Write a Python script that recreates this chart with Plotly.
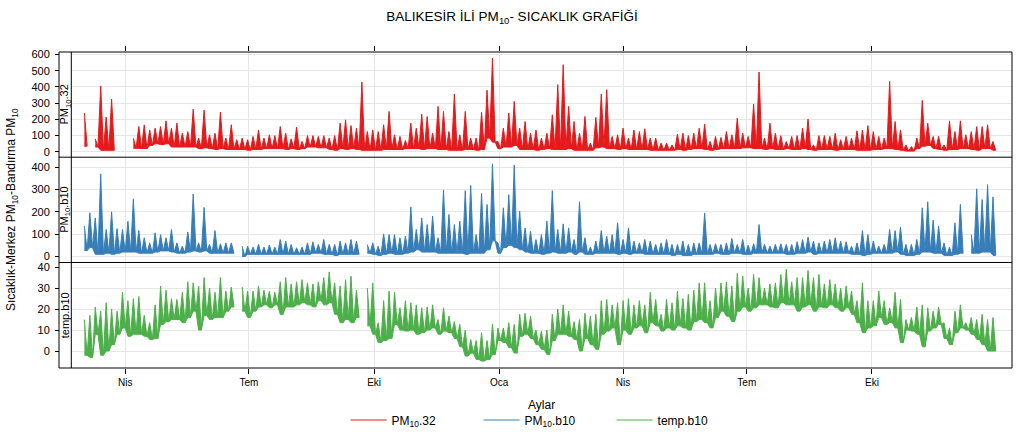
import pandas as pd
import plotly.graph_objects as go

N = None
start_date = "2015-03-01"
step_days = 4  # each entry = one 4-day window (max, min)

month_ticks = ["2015-04-01", "2015-07-01", "2015-10-01", "2016-01-01",
               "2016-04-01", "2016-07-01", "2016-10-01"]
month_labels = ["Nis", "Tem", "Eki", "Oca", "Nis", "Tem", "Eki"]

pm32_hi = [240, N, 80, 405, 215, 325, N, N, N, 84, 156, 166, 135, 146, 156, 191, 146, 177, 115, 125,
           263, 85, 257, 105, 115, 245, 85, 167, 75, 85, 75, 95, 135, 85, 105, 100, 156, 115, 80, 152,
           64, 100, 100, 95, 100, 85, 100, 177, 197, 162, 146, 430, 125, 135, 125, 167, 249, 105, 95, 70,
           177, 146, 232, 218, 115, 280, 249, 125, 356, 105, 249, 85, 85, 243, 380, 578, 64, 146, 239, 311,
           146, 187, 115, 135, 85, 115, 228, 414, 537, 280, 187, 115, 218, 54, 212, 356, 383, 95, 105, 146,
           85, 135, 125, 142, 85, 85, 54, 54, 43, 109, 115, 100, 115, 146, 170, 64, 95, 89, 125, 105,
           208, 115, 95, 294, 492, 85, 177, 115, 100, 64, 95, 100, 146, 202, 43, 100, 100, 95, 115, 75,
           95, 85, 130, 135, 162, 125, 95, 85, 434, 187, 135, 43, 33, 85, 317, 177, 95, 95, 43, 191,
           125, 191, 105, 125, 156, 156, 167, 64]
pm32_lo = [35, N, 30, 10, 10, 10, N, N, N, 23, 22, 20, 40, 50, 45, 50, 30, 30, 30, 30,
           30, 20, 25, 20, 15, 20, 15, 15, 15, 15, 10, 15, 15, 20, 20, 20, 20, 15, 20, 15,
           20, 30, 30, 25, 25, 15, 10, 20, 15, 20, 15, 10, 10, 10, 10, 15, 15, 12, 15, 20,
           20, 20, 15, 20, 20, 15, 15, 10, 10, 10, 15, 15, 10, 15, 85, 60, 20, 30, 30, 40,
           15, 15, 15, 10, 15, 20, 15, 15, 15, 20, 10, 10, 10, 10, 25, 30, 20, 20, 15, 20,
           15, 15, 15, 15, 10, 10, 10, 10, 10, 15, 10, 15, 20, 20, 15, 10, 15, 20, 20, 20,
           20, 25, 25, 20, 20, 15, 20, 15, 15, 20, 15, 15, 20, 15, 10, 15, 15, 15, 10, 15,
           15, 15, 10, 10, 10, 15, 15, 20, 20, 15, 10, 5, 5, 20, 35, 40, 20, 15, 10, 15,
           15, 20, 20, 15, 10, 20, 20, 10]

pmb10_hi = [136, 196, 173, 370, 121, 200, 125, 121, 158, 258, 116, 84, 61, 106, 98, 84, 121, 61, 46, 110,
            280, 61, 220, 54, 116, 57, 61, 61, N, 46, 46, 42, 54, 42, 51, 42, 76, 69, 54, 39,
            42, 61, 66, 54, 76, 54, 54, 69, 61, 76, 69, N, 54, 61, 46, 101, 98, 98, 84, 91,
            222, 121, 173, 143, 181, 84, 298, 188, 143, 158, 295, 318, 98, 282, 233, 415, 61, 218, 277, 409,
            203, 128, 113, 76, 98, 158, 295, 121, 146, 128, 76, 245, 84, 42, 69, 116, 91, 98, 151, 76,
            128, 69, 61, 76, 69, 54, 61, 76, 54, 54, 69, 54, 61, 61, 195, 54, 57, 54, 61, 81,
            54, 76, 51, 57, 143, 54, 46, 54, 57, 54, 54, 66, 76, 87, 69, 61, 69, 76, 84, 69,
            66, 46, 61, 116, 98, 69, 46, 54, 121, 116, 131, 54, 54, 76, 218, 245, 163, 136, 61, 42,
            151, 233, N, 98, 303, 255, 322, 267]
pmb10_lo = [27, 40, 10, 10, 15, 10, 15, 20, 20, 20, 15, 15, 15, 20, 25, 25, 20, 15, 15, 20,
            25, 20, 25, 15, 15, 15, 15, 15, N, 0, 10, 10, 10, 10, 10, 10, 10, 10, 10, 10,
            10, 10, 15, 15, 10, 10, 5, 10, 10, 10, 10, N, 15, 10, 5, 10, 15, 10, 10, 15,
            20, 30, 20, 20, 20, 15, 15, 15, 15, 15, 10, 15, 15, 15, 30, 70, 15, 40, 50, 40,
            30, 20, 15, 15, 10, 15, 20, 15, 15, 20, 10, 20, 10, 10, 15, 15, 15, 15, 10, 15,
            10, 15, 15, 10, 10, 10, 10, 10, 5, 10, 5, 5, 10, 10, 10, 10, 15, 10, 10, 15,
            15, 10, 10, 15, 15, 15, 15, 15, 15, 10, 10, 15, 15, 20, 10, 15, 15, 15, 15, 15,
            15, 10, 10, 5, 10, 15, 15, 15, 15, 20, 10, 5, 5, 10, 20, 20, 15, 15, 5, 5,
            10, 15, N, 15, 15, 20, 20, 5]

temp_hi = [15, 17, 21, 19, 23, 20, 19, 28, 24, 25, 26, 17, 13.5, 22, 31, 29, 25, 24.6, 28, 33,
           32.5, 31, 35, 30, 28, 35, 28.6, 30.5, N, 30.5, 28.6, 28.6, 31, 29, 28.6, 28, 33, 35, 32, 33,
           34, 32.5, 32, 33, 35, 37.7, 32.5, 31, 34, 35.7, 29, N, 30, 32.5, 13.5, 24, 28.6, 28, 20.6, 24,
           23, 22, 20.6, 21, 22, 15, 20.6, 16.6, 14, 12.7, 10, 5.5, 5, 8.7, 5, 12.7, 11, 11, 13.5, 12.7,
           17.5, 18, 16.6, 10, 9.5, 10, 17.5, 20, 22, 19, 14, 15, 18, 16.6, 17.5, 24, 24.6, 22, 23, 24,
           25, 22, 24, 22, 28, 24.6, 17.5, 24.6, 23, 28.6, 25, 27, 29, 32.5, 32.5, 24, 30, 32.5, 33, 31,
           37, 35.7, 30, 36.5, 35, 30, 32, 32.5, 36.5, 39, 33, 35, 35, 38.4, 35, 36.5, 32, 34, 32, 30,
           31, 28.6, 24, 32.5, 24, 24, 28.6, 24, 20.6, 28, 24.6, 15, 16, 21, 22, 20.6, 19, 21, 13.5, 11,
           19, 22, 13.5, 16, 15, 17.5, 15, 16]
temp_lo = [-2, -3, 8, -2, 0, 3, 8, 11, 7, 8, 8, 7, 5.5, 6, 12.7, 14, 15, 15, 13.5, 16,
           19, 10, 17, 15, 16, 16, 19, 21, N, 19, 16, 19, 21, 22, 20.6, 22, 17.5, 21, 21, 22,
           23, 22, 21, 24, 22, 23, 17.5, 13.5, 15, 13.5, 16, N, 12, 8, 4, 5, 6, 12.7, 10, 9.5,
           10, 8, 8.7, 10, 11, 8, 9.5, 8.7, 6, 2, -2.4, -1, -4, -4.8, -4, -1.6, 5, 4, 1.6, -1,
           7, 8, 6, 3, 0.8, -1.6, 5, 8, 8, 7, 5.5, 0, 6, 3, 0.8, 8, 9.5, 11, 3, 10,
           8, 11, 12, 8.7, 13.5, 12, 9.5, 11, 10, 12, 11, 10, 14, 15, 13.5, 11, 16, 19, 16.6, 14,
           19, 21, 19, 20.6, 22, 22, 21, 20.6, 23, 22, 22, 19, 21, 22, 19, 21, 20.6, 22, 20.6, 19,
           20.6, 17.5, 13.5, 8.7, 11, 12, 16, 12.7, 13.5, 11, 4, 10, 9.5, 8, 2, 9.5, 11, 12.7, 6, 3,
           8.7, 11, 10, 8, 5.5, 3, 0, 0]

series_names = ["PM<sub>10</sub>.32", "PM<sub>10</sub>.b10", "temp.b10"]
series_colors = ["#E41A1C", "#377EB8", "#4DAF4A"]

base = pd.Timestamp(start_date)


def segments(hi, lo):
    """Split the window lists into contiguous runs (no missing windows)."""
    runs, cur = [], []
    for i, (h, l) in enumerate(zip(hi, lo)):
        if h is None or l is None:
            if cur:
                runs.append(cur)
            cur = []
        else:
            cur.append((i, h, l))
    if cur:
        runs.append(cur)
    return runs


fig = go.Figure()
data = [(pm32_hi, pm32_lo, "x2", "y"), (pmb10_hi, pmb10_lo, "x", "y2"), (temp_hi, temp_lo, "x", "y3")]
for k, ((hi, lo, xa, ya), name, col) in enumerate(zip(data, series_names, series_colors)):
    for run in segments(hi, lo):
        xs, y_low, y_zig = [], [], []
        for i, h, l in run:
            xs += [base + pd.Timedelta(days=step_days * i + 1), base + pd.Timedelta(days=step_days * i + 3)]
            y_low += [l, l]
            y_zig += [h, l]
        fig.add_trace(go.Scatter(x=xs, y=y_low, mode="lines", line=dict(color=col, width=1),
                                 xaxis=xa, yaxis=ya, showlegend=False, hoverinfo="skip"))
        fig.add_trace(go.Scatter(x=xs, y=y_zig, mode="lines", line=dict(color=col, width=1),
                                 fill="tonexty", fillcolor=col, xaxis=xa, yaxis=ya,
                                 showlegend=False, hoverinfo="skip"))
    # legend entry (no data)
    fig.add_trace(go.Scatter(x=[None], y=[None], mode="lines", name=name, legendrank=k + 1,
                             line=dict(color=col, width=1), xaxis="x", yaxis="y3",
                             showlegend=True, hoverinfo="skip"))

GRID = "#e6e6e6"
xrange = ["2015-02-20 09:00", "2017-01-11 23:00"]
strip_x = 12.3 / 953.0
d3 = 0.3339
d2 = 0.6671

common_x = dict(type="date", range=xrange, domain=[strip_x, 1], tickvals=month_ticks,
                ticktext=month_labels, ticks="outside", ticklen=5, tickcolor="black",
                showgrid=True, gridcolor=GRID, gridwidth=1, zeroline=False, showline=False,
                tickfont=dict(size=10))
fig.update_layout(
    xaxis=dict(common_x, anchor="y3", side="bottom"),
    xaxis2=dict(common_x, anchor="y", side="top", showticklabels=False, matches="x"),
)

common_y = dict(anchor="free", position=0, ticks="outside", ticklen=4, tickcolor="black",
                showgrid=True, gridcolor=GRID, gridwidth=1, zeroline=False, showline=False,
                tickfont=dict(size=11), ticklabelstandoff=3)
fig.update_layout(
    yaxis=dict(common_y, domain=[d2, 1], range=[-32.7, 615], tickvals=[0, 100, 200, 300, 400, 500, 600]),
    yaxis2=dict(common_y, domain=[d3, d2], range=[-26.8, 444.7], tickvals=[0, 100, 200, 300, 400]),
    yaxis3=dict(common_y, domain=[0, d3], range=[-8.1, 42.2], tickvals=[0, 10, 20, 30, 40]),
)

frame = dict(color="black", width=1)
shapes = [
    dict(type="rect", xref="paper", yref="paper", x0=0, x1=1, y0=0, y1=1, line=frame),
    dict(type="line", xref="paper", yref="paper", x0=strip_x, x1=strip_x, y0=0, y1=1, line=frame),
    dict(type="line", xref="paper", yref="paper", x0=0, x1=1, y0=d3, y1=d3, line=frame),
    dict(type="line", xref="paper", yref="paper", x0=0, x1=1, y0=d2, y1=d2, line=frame),
]

strip_cx = 6.0 / 953.0
annotations = [
    dict(text=series_names[0], x=strip_cx, y=(d2 + 1) / 2, textangle=-90),
    dict(text=series_names[1], x=strip_cx, y=(d3 + d2) / 2, textangle=-90),
    dict(text=series_names[2], x=strip_cx, y=d3 / 2, textangle=-90),
]
annotations = [dict(a, xref="paper", yref="paper", showarrow=False, xanchor="center",
                    yanchor="middle", font=dict(size=11)) for a in annotations]
annotations.append(dict(text="Sıcaklık-Merkez PM<sub>10</sub>-Bandırma PM<sub>10</sub>",
                        xref="paper", yref="paper", x=-47 / 953.0, y=0.5, textangle=-90,
                        showarrow=False, xanchor="center", yanchor="middle", font=dict(size=12)))
annotations.append(dict(text="Aylar", xref="paper", yref="paper", x=(541.5 - 59) / 953.0,
                        y=-0.116, showarrow=False, xanchor="center", yanchor="middle",
                        font=dict(size=12)))

fig.update_layout(
    width=1024, height=439,
    margin=dict(l=59, r=12, t=52, b=71),
    paper_bgcolor="white", plot_bgcolor="white",
    font=dict(family="Arial, 'Liberation Sans', sans-serif", color="black", size=11),
    title=dict(text="BALIKESİR İLİ PM<sub>10</sub>- SICAKLIK GRAFİĞİ", x=0.5, xref="container",
               xanchor="center", y=1 - 16 / 439, yanchor="middle", font=dict(size=13.5)),
    shapes=shapes,
    annotations=annotations,
    showlegend=True,
    legend=dict(orientation="h", xref="container", yref="container", x=0.5323, xanchor="center",
                y=(439 - 420) / 439, yanchor="middle", font=dict(size=12), entrywidth=82,
                itemwidth=36, traceorder="normal", bgcolor="rgba(0,0,0,0)"),
)

fig.write_html("out.html", config={"displayModeBar": False},
               post_script="document.body.style.margin='0';")
